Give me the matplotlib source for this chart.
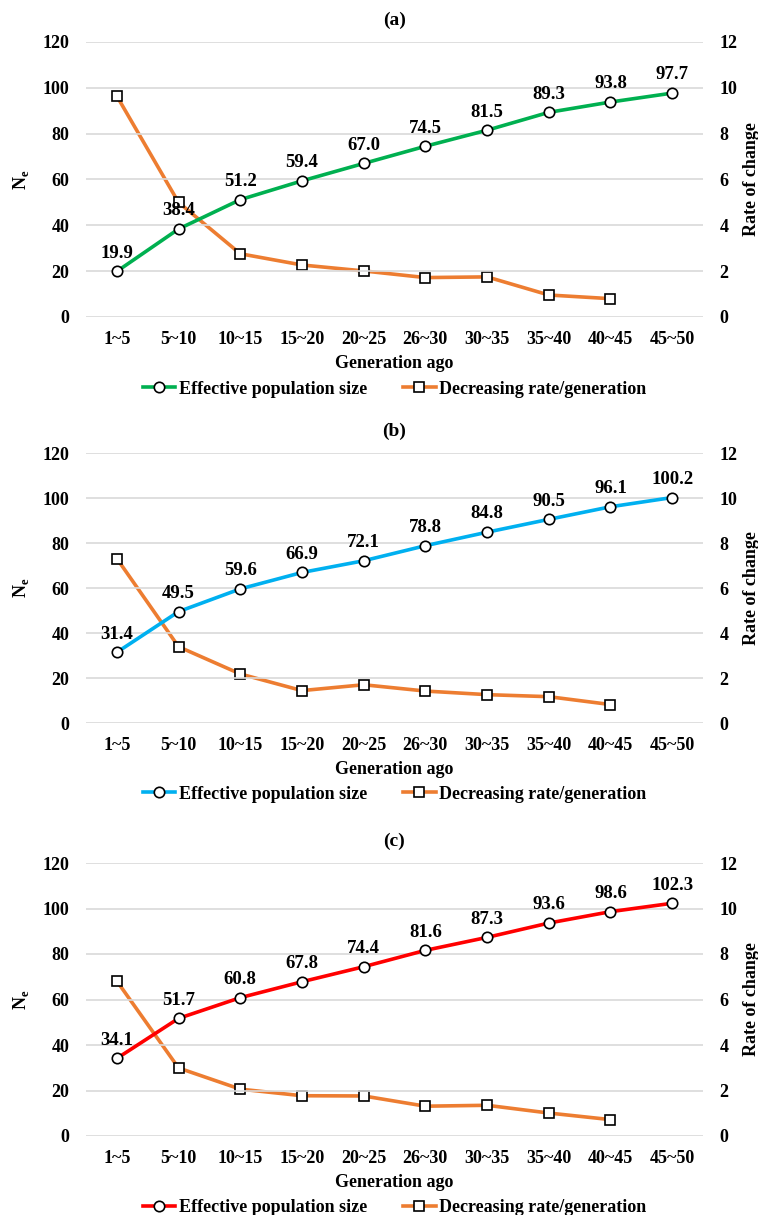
import matplotlib
matplotlib.use("Agg")
import matplotlib.pyplot as plt
from matplotlib.ticker import MultipleLocator

plt.rcParams['font.family'] = ['Liberation Serif', 'DejaVu Serif']
plt.rcParams['font.weight'] = 'bold'
plt.rcParams['mathtext.fontset'] = 'custom'
plt.rcParams['mathtext.rm'] = 'Liberation Serif:bold'
plt.rcParams['mathtext.bf'] = 'Liberation Serif:bold'

categories = ["1~5", "5~10", "10~15", "15~20", "20~25", "26~30", "30~35", "35~40", "40~45", "45~50"]

ne_a = [19.9, 38.4, 51.2, 59.4, 67.0, 74.5, 81.5, 89.3, 93.8, 97.7]
rate_a = [9.64, 5.00, 2.76, 2.27, 2.01, 1.72, 1.75, 0.96, 0.80]

ne_b = [31.4, 49.5, 59.6, 66.9, 72.1, 78.8, 84.8, 90.5, 96.1, 100.2]
rate_b = [7.31, 3.39, 2.18, 1.44, 1.70, 1.42, 1.26, 1.17, 0.82]

ne_c = [34.1, 51.7, 60.8, 67.8, 74.4, 81.6, 87.3, 93.6, 98.6, 102.3]
rate_c = [6.81, 2.99, 2.06, 1.77, 1.76, 1.31, 1.35, 1.01, 0.72]

titles = ["(a)", "(b)", "(c)"]
ne_colors = ["#00B050", "#00B0F0", "#FF0000"]
rate_color = "#ED7D31"

W, H = 758, 1215
fig = plt.figure(figsize=(W / 100, H / 100), dpi=100)

# (top of 120 gridline, bottom 0 gridline) in pixels
panels = [(42, 317), (453, 723), (863, 1136)]
x_left, x_right = 86, 703

for i, (top, bot) in enumerate(panels):
    ne = [ne_a, ne_b, ne_c][i]
    rate = [rate_a, rate_b, rate_c][i]
    ax = fig.add_axes([x_left / W, 1 - bot / H, (x_right - x_left) / W, (bot - top) / H])
    ax2 = ax.twinx()
    x = list(range(len(categories)))
    ax.plot(x, ne, color=ne_colors[i], lw=2.6, marker='o', ms=7.5,
            mfc='white', mec='black', mew=1.2, zorder=3,
            label='Effective population size')
    ax2.plot(x[:len(rate)], rate, color=rate_color, lw=2.6, marker='s', ms=7.5,
             mfc='white', mec='black', mew=1.2, zorder=3,
             label='Decreasing rate/generation')
    for xi, v in zip(x, ne):
        ax.annotate(f"{v:.1f}", (xi, v), xytext=(0, 7), textcoords='offset points',
                    ha='center', va='bottom', fontsize=13.5, fontweight='bold')
    ax.set_xlim(-0.5, len(categories) - 0.5)
    ax.set_ylim(0, 120)
    ax2.set_ylim(0, 12)
    ax.yaxis.set_major_locator(MultipleLocator(20))
    ax2.yaxis.set_major_locator(MultipleLocator(2))
    ax.set_xticks(x)
    ax.set_xticklabels(categories)
    ax.grid(axis='y', color='#D9D9D9', lw=1.2, zorder=0)
    ax.set_axisbelow(True)
    for a in (ax, ax2):
        for s in a.spines.values():
            s.set_visible(False)
        a.tick_params(length=0, labelsize=13)
    ax.tick_params(axis='x', pad=10)
    ax.tick_params(axis='y', pad=12)
    ax2.tick_params(axis='y', pad=12)
    ax.set_ylabel(r'N$_\mathrm{e}$', fontsize=13, fontweight='bold', labelpad=8)
    ax2.set_ylabel('Rate of change', fontsize=13, fontweight='bold', labelpad=4)
    ax.set_xlabel('Generation ago', fontsize=13, fontweight='bold', labelpad=5)
    ax.set_zorder(ax2.get_zorder() + 1)
    ax.patch.set_visible(False)
    ax.set_title(titles[i], fontsize=14, fontweight='bold', pad=12)
    h1, l1 = ax.get_legend_handles_labels()
    h2, l2 = ax2.get_legend_handles_labels()
    ax.legend(h1 + h2, l1 + l2, loc='upper center', bbox_to_anchor=(0.5, -0.205),
              ncol=2, frameon=False, fontsize=13, handlelength=1.8,
              handletextpad=0.2, columnspacing=2.0, borderaxespad=0)

fig.savefig("out.png", dpi=100)
